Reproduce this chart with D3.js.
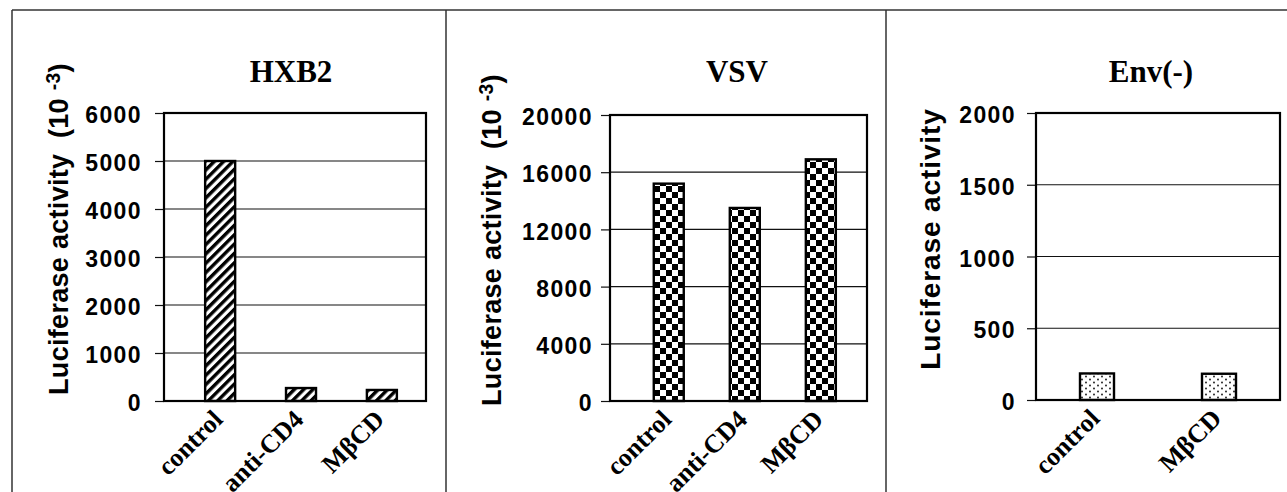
<!DOCTYPE html>
<html>
<head>
<meta charset="utf-8">
<script src="https://cdn.jsdelivr.net/npm/d3@7"></script>
<style>
  html, body { margin: 0; padding: 0; background: #fff; }
  svg { display: block; }
  .tick text { font-family: "Liberation Sans", Arial, sans-serif; font-weight: bold; }
</style>
</head>
<body>
<div id="chart"></div>
<script>
// values
const titles = ["HXB2", "VSV", "Env(-)"];
const hxb2Categories = ["control", "anti-CD4", "MβCD"];
const hxb2Values = [5000, 270, 230];
const hxb2Ticks = [0, 1000, 2000, 3000, 4000, 5000, 6000];
const vsvCategories = ["control", "anti-CD4", "MβCD"];
const vsvValues = [15200, 13500, 16900];
const vsvTicks = [0, 4000, 8000, 12000, 16000, 20000];
const envCategories = ["control", "MβCD"];
const envValues = [185, 183];
const envTicks = [0, 500, 1000, 1500, 2000];

const width = 1287, height = 492;

const svg = d3.select('#chart').append('svg')
  .attr('width', width)
  .attr('height', height);

// fill patterns
const defs = svg.append('defs');

let hatch = defs.append('pattern')
  .attr('id', 'hatch')
  .attr('patternUnits', 'userSpaceOnUse')
  .attr('width', 6.6).attr('height', 10)
  .attr('patternTransform', 'rotate(45)');
hatch.append('rect').attr('width', 6.6).attr('height', 10).attr('fill', '#fff');
hatch.append('rect').attr('width', 3.4).attr('height', 10).attr('fill', '#000');

let checker = defs.append('pattern')
  .attr('id', 'checker')
  .attr('patternUnits', 'userSpaceOnUse')
  .attr('width', 12).attr('height', 12);
checker.append('rect').attr('width', 12).attr('height', 12).attr('fill', '#fff');
checker.append('rect').attr('width', 6).attr('height', 6).attr('fill', '#000');
checker.append('rect').attr('x', 6).attr('y', 6).attr('width', 6).attr('height', 6).attr('fill', '#000');

let dots = defs.append('pattern')
  .attr('id', 'dots')
  .attr('patternUnits', 'userSpaceOnUse')
  .attr('width', 8).attr('height', 6);
dots.append('rect').attr('width', 8).attr('height', 6).attr('fill', '#fff');
dots.append('circle').attr('cx', 2).attr('cy', 1.5).attr('r', 0.9).attr('fill', '#111');
dots.append('circle').attr('cx', 6).attr('cy', 4.5).attr('r', 0.9).attr('fill', '#111');

// outer frame and panel dividers
const frame = svg.append('g').attr('stroke', '#333').attr('stroke-width', 1.5);
frame.append('line').attr('x1', 12).attr('x2', width).attr('y1', 10).attr('y2', 10);
[12, 446, 886].forEach(x => {
  frame.append('line').attr('x1', x).attr('x2', x).attr('y1', 10).attr('y2', height);
});

const panels = [
  { title: titles[0], cats: hxb2Categories, vals: hxb2Values, ticks: hxb2Ticks,
    left: 164, right: 426, top: 113, bottom: 401, pad: 0.62, align: 0.56, barW: 30,
    fill: 'url(#hatch)', tickPad: 13, titleX: 291,
    ylabel: { x: 68, y: 229, size: 27, spacing: 0.3, sup: true } },
  { title: titles[1], cats: vsvCategories, vals: vsvValues, ticks: vsvTicks,
    left: 610, right: 867, top: 115, bottom: 401, pad: 0.69, align: 0.56, barW: 30,
    fill: 'url(#checker)', tickPad: 8, titleX: 737,
    ylabel: { x: 501, y: 240, size: 27, spacing: 0.3, sup: true } },
  { title: titles[2], cats: envCategories, vals: envValues, ticks: envTicks,
    left: 1036, right: 1280, top: 113, bottom: 400, pad: 0.5, align: 0.5, barW: 34,
    fill: 'url(#dots)', tickPad: 11, titleX: 1151,
    ylabel: { x: 940, y: 239, size: 28, spacing: 0.9, sup: false } }
];

panels.forEach(drawPanel);

function drawPanel(p) {
  const x = d3.scalePoint()
    .domain(p.cats)
    .range([p.left, p.right])
    .padding(p.pad)
    .align(p.align);

  const y = d3.scaleLinear()
    .domain([0, d3.max(p.ticks)])
    .range([p.bottom, p.top]);

  const g = svg.append('g');

  // gridlines
  g.append('g')
    .selectAll('line')
    .data(p.ticks.slice(1, -1))
    .enter().append('line')
      .attr('x1', p.left).attr('x2', p.right)
      .attr('y1', d => y(d)).attr('y2', d => y(d))
      .attr('stroke', '#111')
      .attr('stroke-width', 1.2);

  // y axis with ticks
  const axis = g.append('g')
    .attr('transform', 'translate(' + p.left + ',0)')
    .call(d3.axisLeft(y)
      .tickValues(p.ticks)
      .tickFormat(d3.format('d'))
      .tickSize(9).tickSizeOuter(0)
      .tickPadding(p.tickPad));
  axis.select('.domain').remove();
  axis.selectAll('.tick line').attr('stroke', '#111').attr('stroke-width', 1.2);
  axis.selectAll('.tick text')
    .attr('font-size', 23)
    .attr('letter-spacing', 1.4)
    .attr('fill', '#000')
    .attr('dy', '0.42em');

  // bars
  g.append('g')
    .selectAll('rect')
    .data(p.vals)
    .enter().append('rect')
      .attr('x', (d, i) => x(p.cats[i]) - p.barW / 2)
      .attr('y', d => y(d))
      .attr('width', p.barW)
      .attr('height', d => y(0) - y(d))
      .attr('fill', p.fill)
      .attr('stroke', '#000')
      .attr('stroke-width', 2.4);

  // plot border
  g.append('rect')
    .attr('x', p.left).attr('y', p.top)
    .attr('width', p.right - p.left).attr('height', p.bottom - p.top)
    .attr('fill', 'none')
    .attr('stroke', '#000')
    .attr('stroke-width', 2.2);

  // category labels
  g.append('g')
    .selectAll('text')
    .data(p.cats)
    .enter().append('text')
      .attr('transform', d => 'translate(' + (x(d) + 4) + ',' + (p.bottom + 20) + ') rotate(-45)')
      .attr('text-anchor', 'end')
      .attr('font-family', '"Liberation Serif", "Times New Roman", serif')
      .attr('font-weight', 'bold')
      .attr('font-size', 26)
      .text(d => d);

  // title
  g.append('text')
    .attr('x', p.titleX).attr('y', 82)
    .attr('text-anchor', 'middle')
    .attr('font-family', '"Liberation Serif", "Times New Roman", serif')
    .attr('font-weight', 'bold')
    .attr('font-size', 31)
    .text(p.title);

  // y label
  const yl = g.append('text')
    .attr('transform', 'translate(' + p.ylabel.x + ',' + p.ylabel.y + ') rotate(-90)')
    .attr('text-anchor', 'middle')
    .attr('font-family', '"Liberation Sans", Arial, sans-serif')
    .attr('font-weight', 'bold')
    .attr('letter-spacing', p.ylabel.spacing)
    .attr('font-size', p.ylabel.size);
  if (p.ylabel.sup) {
    yl.append('tspan').text('Luciferase activity\u00a0 (10\u00a0');
    yl.append('tspan').attr('dy', '-0.4em').attr('font-size', '0.72em').text('-3');
    yl.append('tspan').attr('dy', '0.29em').text(')');
  } else {
    yl.text('Luciferase activity');
  }
}
</script>
</body>
</html>
